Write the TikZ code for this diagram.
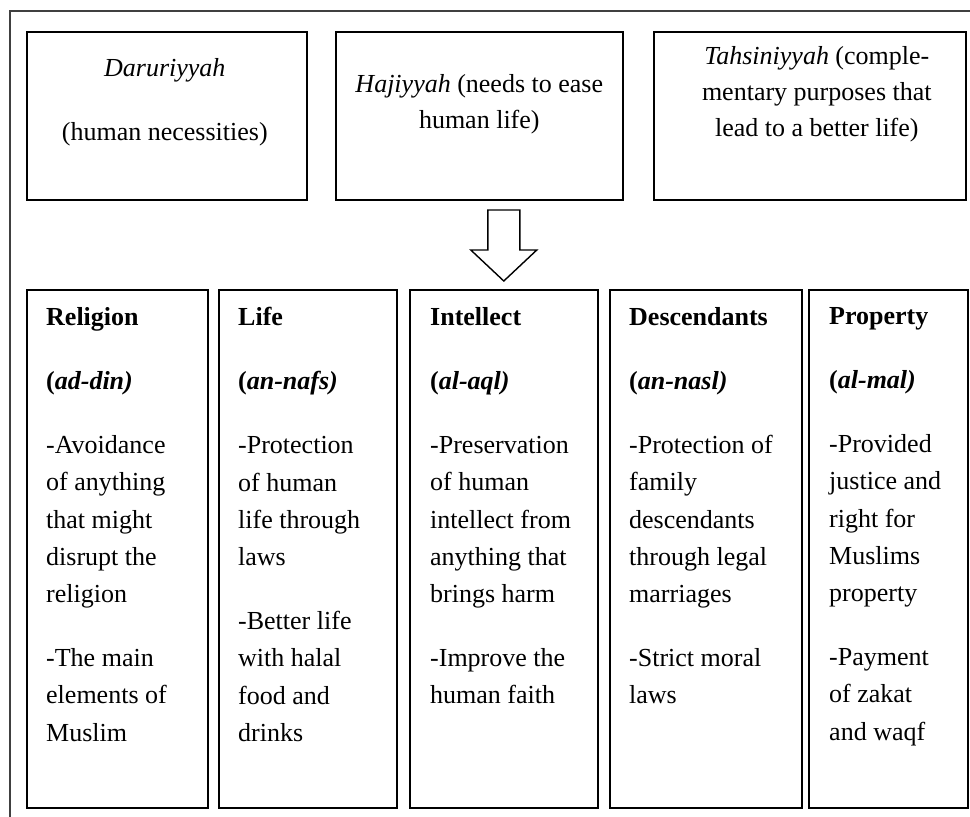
\documentclass[tikz,border=0pt]{standalone}
\usepackage{fontspec}
\setmainfont{Liberation Serif}
\usetikzlibrary{positioning}

\begin{document}
\begin{tikzpicture}[x=1pt,y=1pt,
    frameline/.style={draw=black!75,line width=1.3pt},
    topbox/.style={draw,line width=1.6pt,anchor=north west,minimum height=168pt,inner sep=0pt},
    pillar/.style={draw,line width=1.6pt,anchor=north west,minimum height=518pt,inner sep=0pt},
    toptext/.style={inner sep=0pt,align=center,font=\fontsize{26pt}{36pt}\selectfont},
    pillartext/.style={inner sep=0pt,align=left,font=\fontsize{26pt}{37.2pt}\selectfont},
    hollow/.style={draw,line width=1.4pt,fill=white,line join=miter}]
    \useasboundingbox (0,0) rectangle (970,-817);
    \draw[frameline] (10,-817) -- (10,-11) -- (970,-11);

    % three levels
    \node [topbox,minimum width=280pt] (dar) at (26,-31) {};
    \node [topbox,minimum width=287pt] (haj) at (335,-31) {};
    \node [topbox,minimum width=312pt] (tah) at (653,-31) {};

    \node [toptext,below=27pt of dar.north,xshift=-2pt] (dar text) {\textit{Daruriyyah}\\[28pt](human necessities)};
    \node [toptext,below=43pt of haj.north] (haj text) {\textit{Hajiyyah} (needs to ease\\human life)};
    \node [toptext,below=15pt of tah.north,xshift=7pt] (tah text) {\textit{Tahsiniyyah} (comple-\\mentary purposes that\\lead to a better life)};

    % five objectives
    \node [pillar,minimum width=181pt] (rel) at (26,-289) {};
    \node [pillar,minimum width=178pt] (life) at (218,-289) {};
    \node [pillar,minimum width=188pt] (int) at (409,-289) {};
    \node [pillar,minimum width=192pt] (desc) at (609,-289) {};
    \node [pillar,minimum width=159pt] (prop) at (808,-289) {};

    \node [pillartext,below right=18pt and 20pt of rel.north west] (rel text)
        {\textbf{Religion}\\[27pt]\textbf{(\textit{ad-din)}}\\[27pt]-Avoidance\\of anything\\that might\\disrupt the\\religion\\[27pt]-The main\\elements of\\Muslim};
    \node [pillartext,below right=18pt and 20pt of life.north west] (life text)
        {\textbf{Life}\\[27pt]\textbf{(\textit{an-nafs)}}\\[27pt]-Protection\\of human\\life through\\laws\\[27pt]-Better life\\with halal\\food and\\drinks};
    \node [pillartext,below right=18pt and 21pt of int.north west] (int text)
        {\textbf{Intellect}\\[27pt]\textbf{(\textit{al-aql)}}\\[27pt]-Preservation\\of human\\intellect from\\anything that\\brings harm\\[27pt]-Improve the\\human faith};
    \node [pillartext,below right=18pt and 20pt of desc.north west] (desc text)
        {\textbf{Descendants}\\[27pt]\textbf{(\textit{an-nasl)}}\\[27pt]-Protection of\\family\\descendants\\through legal\\marriages\\[27pt]-Strict moral\\laws};
    \node [pillartext,below right=18pt and 21pt of prop.north west] (prop text)
        {\textbf{Property}\\[27pt]\textbf{(\textit{al-mal)}}\\[27pt]-Provided\\justice and\\right for\\Muslims\\property\\[27pt]-Payment\\of zakat\\and waqf};

    % block arrow down to the objectives
    \coordinate [above=8pt of int.north] (tip);
    \draw [hollow] (tip) -- ++(-33,31) -- ++(17,0) -- ++(0,40) -- ++(32,0)
        -- ++(0,-40) -- ++(17,0) -- cycle;
\end{tikzpicture}
\end{document}
